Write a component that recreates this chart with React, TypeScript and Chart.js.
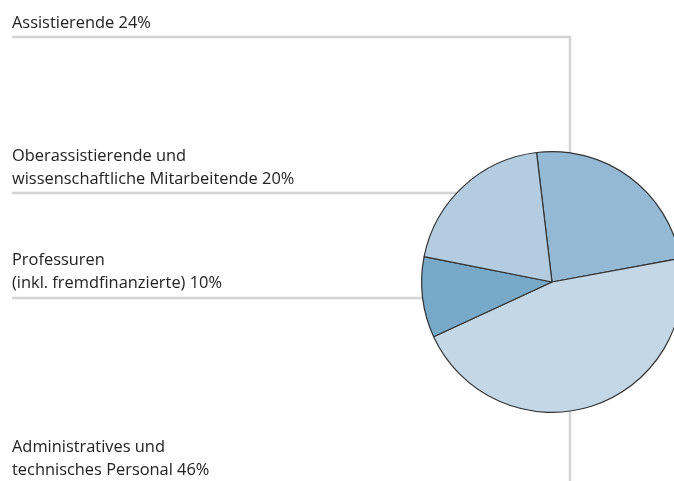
import React, { useEffect, useRef } from "react";
import { Chart, registerables } from "chart.js";

Chart.register(...registerables);

const categories = [
  "Assistierende",
  "Administratives und technisches Personal",
  "Professuren (inkl. fremdfinanzierte)",
  "Oberassistierende und wissenschaftliche Mitarbeitende",
];
const shares = [24, 46, 10, 20];
const sliceColors = ["#94B9D4", "#C4D7E6", "#78A9C9", "#B3CCDF"];

const labelLines = [
  ["Assistierende 24%"],
  ["Oberassistierende und", "wissenschaftliche Mitarbeitende 20%"],
  ["Professuren", "(inkl. fremdfinanzierte) 10%"],
  ["Administratives und", "technisches Personal 46%"],
];
const labelTops = [10, 143, 247, 434];

const LINE_COLOR = "#d4d4d4";

const leaderPlugin = {
  id: "leaders",
  beforeDatasetsDraw(chart: any) {
    const ctx = chart.ctx;
    const arc = chart.getDatasetMeta(0).data[0];
    const cx = arc.x;
    const cy = arc.y;
    const vx = 570;
    ctx.save();
    ctx.strokeStyle = LINE_COLOR;
    ctx.lineWidth = 2.5;
    ctx.beginPath();
    ctx.moveTo(12, 37);
    ctx.lineTo(vx, 37);
    ctx.lineTo(vx, cy);
    ctx.moveTo(12, 193);
    ctx.lineTo(cx, 193);
    ctx.moveTo(12, 298);
    ctx.lineTo(cx, 298);
    ctx.moveTo(vx, cy);
    ctx.lineTo(vx, 481);
    ctx.stroke();
    ctx.restore();
  },
};

export default function App() {
  const ref = useRef<HTMLCanvasElement>(null);
  useEffect(() => {
    const chart = new Chart(ref.current!, {
      type: "pie",
      data: {
        labels: categories,
        datasets: [
          {
            data: shares,
            backgroundColor: sliceColors,
            borderColor: "#333333",
            borderWidth: 1.2,
          },
        ],
      },
      options: {
        responsive: false,
        animation: false,
        rotation: -6.8,
        layout: { padding: { left: 421, right: 17, top: 151, bottom: 68 } },
        plugins: { legend: { display: false }, tooltip: { enabled: false } },
      },
      plugins: [leaderPlugin],
    });
    return () => chart.destroy();
  }, []);

  return (
    <div
      style={{
        position: "fixed",
        left: 0,
        top: 0,
        width: 674,
        height: 481,
        overflow: "hidden",
        background: "#fff",
      }}
    >
      <canvas ref={ref} width={700} height={481} style={{ position: "absolute", left: 0, top: 0 }} />
      {labelLines.map((lines, i) => (
        <div
          key={i}
          style={{
            position: "absolute",
            left: 12,
            top: labelTops[i],
            fontFamily: "'Open Sans', sans-serif",
            fontSize: 16.4,
            lineHeight: "23px",
            color: "#222",
            whiteSpace: "nowrap",
          }}
        >
          {lines.map((l, j) => (
            <div key={j}>{l}</div>
          ))}
        </div>
      ))}
    </div>
  );
}
